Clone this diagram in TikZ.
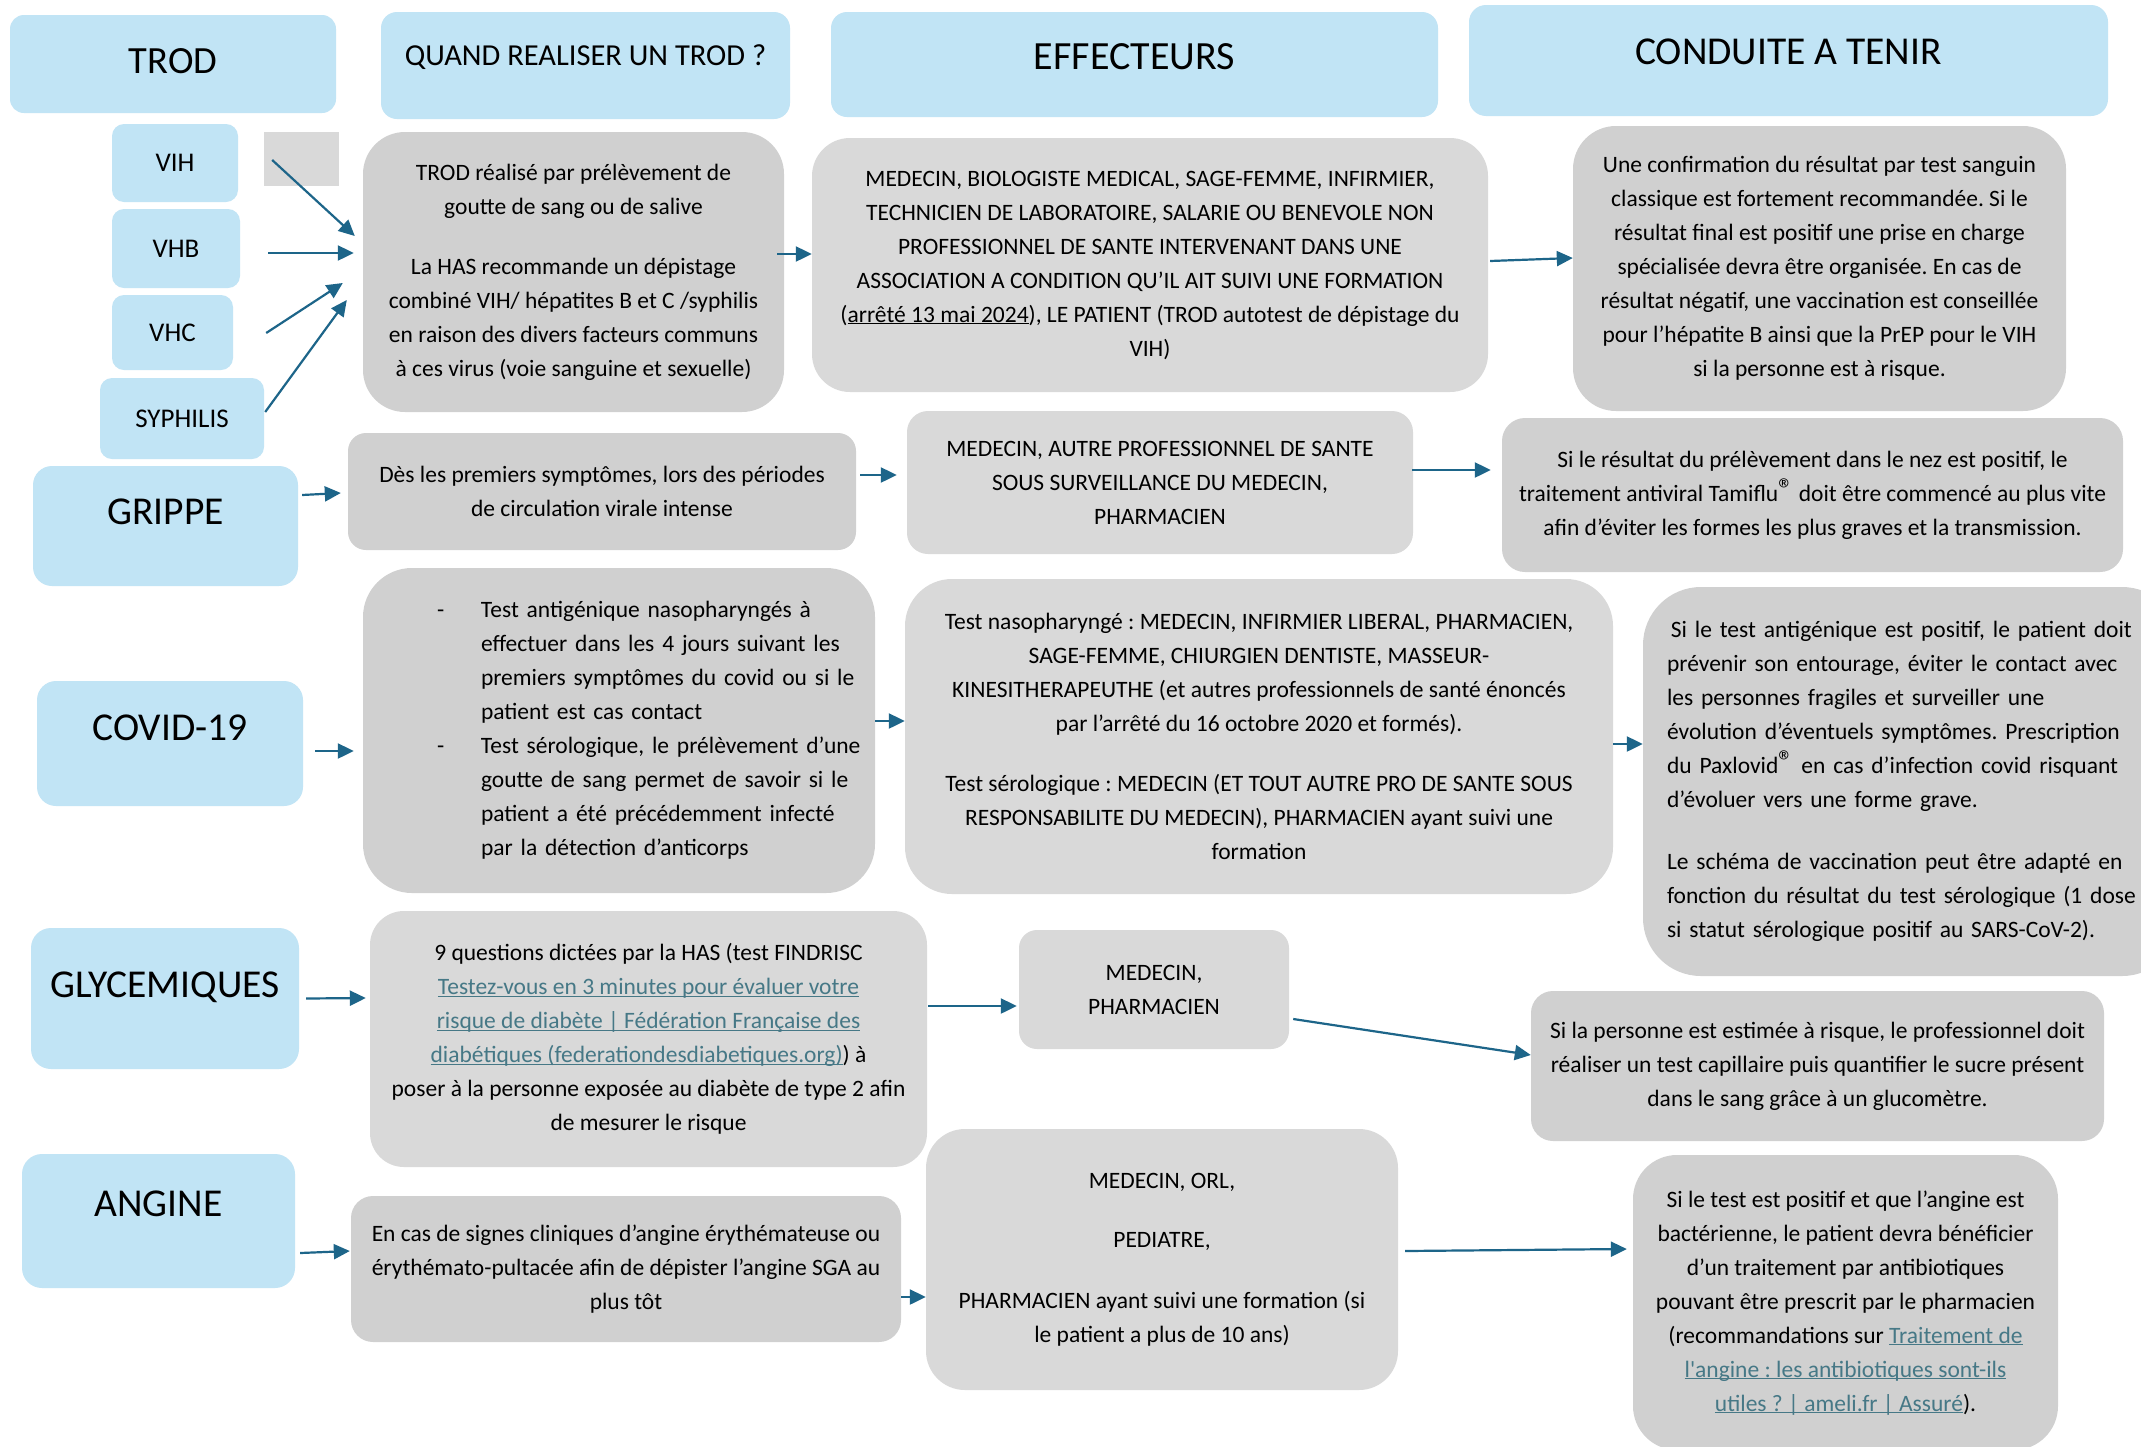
\documentclass[tikz,border=0pt]{standalone}
\usepackage{fontspec}
\setmainfont{Carlito}[Ligatures=TeXOff]
\frenchspacing
\usetikzlibrary{arrows.meta,calc}
\definecolor{hdrblue}{HTML}{C1E4F5}
\definecolor{gryA}{HTML}{D9D9D9}
\definecolor{gryB}{HTML}{D0D0D0}
\definecolor{arrowc}{HTML}{1D6589}
\definecolor{linkc}{HTML}{467886}
\newcommand\bodyfont{\fontsize{23.5}{34}\selectfont}
\newcommand\lnk[1]{{\color{linkc}\underline{\smash{#1}}}}
\newcommand\regmark{\raisebox{2pt}{\fontsize{30}{30}\selectfont ®}}
\newcommand\bline[1]{\hspace*{64pt}\makebox[44pt][l]{-}\mbox{#1}}
\newcommand\contline[1]{\hspace*{108pt}\mbox{#1}}
\tikzset{
  hdr/.style={fill=hdrblue,rounded corners=16pt,inner sep=0pt,align=center},
  cat/.style={fill=hdrblue,rounded corners=19pt,inner sep=0pt,
              font=\fontsize{39.5}{47}\selectfont,text height=25pt},
  vir/.style={fill=hdrblue,rounded corners=12pt,inner sep=0pt,
              font=\fontsize{27}{32}\selectfont},
  gry/.style={fill=#1,inner sep=0pt,align=center,font=\bodyfont},
  gry/.default=gryB,
  ar/.style={-{Triangle[length=16pt,width=15pt]},line width=2.2pt,draw=arrowc,fill=arrowc},
}
\begin{document}
\begin{tikzpicture}[x=1pt,y=-1pt]
  \useasboundingbox[fill=white] (0,0) rectangle (2141,1446);
  % column headers
  \node[hdr,rounded corners=14pt,minimum width=326pt,minimum height=98pt,
        font=\fontsize{38.5}{46}\selectfont,text height=25pt,text depth=6pt] (hTrod) at (173,64){TROD};
  \node[hdr,minimum width=409pt,minimum height=107pt,
        font=\fontsize{30.5}{36}\selectfont,text height=20pt,text depth=20pt] (hQuand) at (585.5,65.5){QUAND REALISER UN TROD ?};
  \node[hdr,minimum width=607pt,minimum height=105pt,
        font=\fontsize{40}{48}\selectfont,text height=26pt,text depth=16pt] (hEff) at (1134.5,64.5){EFFECTEURS};
  \node[hdr,rounded corners=17pt,minimum width=639pt,minimum height=111pt,
        font=\fontsize{39.5}{47}\selectfont,text height=26pt,text depth=18pt] (hCond) at (1788.5,60.5){CONDUITE A TENIR};

  % TROD
  \node[vir,minimum width=126pt,minimum height=78pt] (vih) at (175,163){VIH};
  \node[fill=gryA,inner sep=0pt,minimum width=75pt,minimum height=54pt] (blank) at (301.5,159){};
  \node[vir,minimum width=128pt,minimum height=79pt] (vhb) at (176,248.5){VHB};
  \node[vir,minimum width=121pt,minimum height=75pt] (vhc) at (172.5,332.5){VHC};
  \node[vir,minimum width=164pt,minimum height=81pt] (syph) at (182,418.5){SYPHILIS};
  \node[gry,rounded corners=42pt,minimum width=421pt,minimum height=280pt] (tWhen) at (573.5,272){%
    TROD réalisé par prélèvement de\\goutte de sang ou de salive\\[26pt]
    La HAS recommande un dépistage\\combiné VIH/ hépatites B et C /syphilis\\
    en raison des divers facteurs communs\\à ces virus (voie sanguine et sexuelle)};
  \node[gry=gryA,rounded corners=38pt,minimum width=676pt,minimum height=254pt] (tEff) at (1150,265){%
    MEDECIN, BIOLOGISTE MEDICAL, SAGE-FEMME, INFIRMIER,\\
    TECHNICIEN DE LABORATOIRE, SALARIE OU BENEVOLE NON\\
    PROFESSIONNEL DE SANTE INTERVENANT DANS UNE\\
    ASSOCIATION A CONDITION QU’IL AIT SUIVI UNE FORMATION\\
    (\underline{\smash{arrêté 13 mai 2024}}), LE PATIENT (TROD autotest de dépistage du\\VIH)};
  \node[gry,rounded corners=43pt,minimum width=493pt,minimum height=285pt] (tCond) at (1819.5,268.5){%
    Une confirmation du résultat par test sanguin\\classique est fortement recommandée. Si le\\
    résultat final est positif une prise en charge\\spécialisée devra être organisée. En cas de\\
    résultat négatif, une vaccination est conseillée\\pour l’hépatite B ainsi que la PrEP pour le VIH\\
    si la personne est à risque.};

  % GRIPPE
  \node[cat,minimum width=265pt,minimum height=120pt,text depth=28pt] (gLab) at (165.5,526){GRIPPE};
  \node[gry,rounded corners=18pt,minimum width=508pt,minimum height=117pt] (gWhen) at (602,491.5){%
    Dès les premiers symptômes, lors des périodes\\de circulation virale intense};
  \node[gry=gryA,rounded corners=21pt,minimum width=506pt,minimum height=143pt] (gEff) at (1160,482.5){%
    MEDECIN, AUTRE PROFESSIONNEL DE SANTE\\SOUS SURVEILLANCE DU MEDECIN,\\PHARMACIEN};
  \node[gry,rounded corners=23pt,minimum width=621pt,minimum height=154pt] (gCond) at (1812.5,495){%
    Si le résultat du prélèvement dans le nez est positif, le\\
    traitement antiviral Tamiflu\regmark{} doit être commencé au plus vite\\
    afin d’éviter les formes les plus graves et la transmission.};

  % COVID-19
  \node[cat,minimum width=266pt,minimum height=125pt,text depth=32pt] (cLab) at (170,743.5){COVID-19};
  \node[gry,rounded corners=49pt,minimum width=512pt,minimum height=325pt,
        align=left,text width=492pt,inner xsep=10pt] (cWhen) at (619,730.5){%
    \bline{Test antigénique nasopharyngés à}\\
    \contline{effectuer dans les 4 jours suivant les}\\
    \contline{premiers symptômes du covid ou si le}\\
    \contline{patient est cas contact}\\
    \bline{Test sérologique, le prélèvement d’une}\\
    \contline{goutte de sang permet de savoir si le}\\
    \contline{patient a été précédemment infecté}\\
    \contline{par la détection d’anticorps}};
  \node[gry=gryA,rounded corners=47pt,minimum width=708pt,minimum height=315pt] (cEff) at (1259,736.5){%
    Test nasopharyngé : MEDECIN, INFIRMIER LIBERAL, PHARMACIEN,\\
    SAGE-FEMME, CHIURGIEN DENTISTE, MASSEUR-\\
    KINESITHERAPEUTHE (et autres professionnels de santé énoncés\\
    par l’arrêté du 16 octobre 2020 et formés).\\[26pt]
    Test sérologique : MEDECIN (ET TOUT AUTRE PRO DE SANTE SOUS\\
    RESPONSABILITE DU MEDECIN), PHARMACIEN ayant suivi une\\formation};
  \node[gry,rounded corners=58pt,minimum width=537pt,minimum height=389pt,
        align=left,text width=489pt,inner xsep=24pt] (cCond) at (1911.5,781.5){%
    \,Si le test antigénique est positif, le patient doit\\
    prévenir son entourage, éviter le contact avec\\
    les personnes fragiles et surveiller une\\
    évolution d’éventuels symptômes. Prescription\\
    du Paxlovid\regmark{} en cas d’infection covid risquant\\
    d’évoluer vers une forme grave.\\[28pt]
    Le schéma de vaccination peut être adapté en\\
    fonction du résultat du test sérologique (1 dose\\
    si statut sérologique positif au SARS-CoV-2).};

  % GLYCEMIQUES
  \node[cat,rounded corners=20pt,minimum width=268pt,minimum height=141pt,text depth=28pt] (yLab) at (165,998.5){GLYCEMIQUES};
  \node[gry=gryA,rounded corners=34pt,minimum width=557pt,minimum height=256pt] (yWhen) at (648.5,1039){%
    9 questions dictées par la HAS (test FINDRISC\\
    \lnk{Testez-vous en 3 minutes pour évaluer votre}\\
    \lnk{risque de diabète | Fédération Française des}\\
    \lnk{diabétiques (federationdesdiabetiques.org)}) à\\
    poser à la personne exposée au diabète de type 2 afin\\
    de mesurer le risque};
  \node[gry=gryA,rounded corners=18pt,minimum width=270pt,minimum height=119pt] (yEff) at (1154,989.5){%
    MEDECIN,\\PHARMACIEN};
  \node[gry,rounded corners=22pt,minimum width=573pt,minimum height=150pt] (yCond) at (1817.5,1066){%
    Si la personne est estimée à risque, le professionnel doit\\
    réaliser un test capillaire puis quantifier le sucre présent\\
    dans le sang grâce à un glucomètre.};

  % ANGINE
  \node[cat,rounded corners=20pt,minimum width=273pt,minimum height=134pt,text depth=34pt] (aLab) at (158.5,1221){ANGINE};
  \node[gry,rounded corners=22pt,minimum width=550pt,minimum height=146pt] (aWhen) at (626,1269){%
    En cas de signes cliniques d’angine érythémateuse ou\\
    érythémato-pultacée afin de dépister l’angine SGA au\\plus tôt};
  \node[gry=gryA,rounded corners=39pt,minimum width=472pt,minimum height=261pt] (aEff) at (1162,1259.5){%
    MEDECIN, ORL,\\[25pt]PEDIATRE,\\[27pt]
    PHARMACIEN ayant suivi une formation (si\\le patient a plus de 10 ans)};
  \node[gry,rounded corners=44pt,minimum width=425pt,minimum height=295pt] (aCond) at (1845.5,1302.5){%
    Si le test est positif et que l’angine est\\
    bactérienne, le patient devra bénéficier\\
    d’un traitement par antibiotiques\\
    pouvant être prescrit par le pharmacien\\
    (recommandations sur \lnk{Traitement de}\\
    \lnk{l'angine : les antibiotiques sont-ils}\\
    \lnk{utiles ? | ameli.fr | Assuré}).};

  % connectors
  \draw[ar] ($(vih.east)+(34,-3)$) -- ($(tWhen.west)+(-8,-36)$);
  \draw[ar] ($(vhb.east)+(28,4.5)$) -- ($(tWhen.west)+(-9,-19)$);
  \draw[ar] ($(vhc.east)+(33,0.5)$) -- ($(tWhen.west)+(-20,11)$);
  \draw[ar] ($(syph.east)+(1,-6.5)$) -- ($(tWhen.west)+(-16,28)$);
  \draw[ar] ($(tWhen.east)+(-7,-18)$) -- ($(tEff.west)+(0,-11)$);
  \draw[ar] ($(tEff.east)+(2,-4)$) -- ($(tCond.west)+(0,-10.5)$);
  \draw[ar] ($(gLab.east)+(4,-31)$) -- ($(gWhen.west)+(-7,1.5)$);
  \draw[ar] ($(gWhen.east)+(4,-16.5)$) -- ($(gEff.west)+(-10,-7.5)$);
  \draw[ar] ($(gEff.east)+(-1,-12.5)$) -- ($(gCond.west)+(-11,-25)$);
  \draw[ar] ($(cLab.east)+(12,7.5)$) -- ($(cWhen.west)+(-9,20.5)$);
  \draw[ar] ($(cWhen.east)+(0,-9.5)$) -- ($(cEff.west)+(0,-15.5)$);
  \draw[ar] ($(cEff.east)+(0,7.5)$) -- ($(cCond.west)+(0,-37.5)$);
  \draw[ar] ($(yLab.east)+(7,0)$) -- ($(yWhen.west)+(-4,-41)$);
  \draw[ar] ($(yWhen.east)+(1,-33)$) -- ($(yEff.west)+(-2,16.5)$);
  \draw[ar] ($(yEff.east)+(4,29.5)$) -- ($(yCond.west)+(0,-11)$);
  \draw[ar] ($(aLab.east)+(5,32)$) -- ($(aWhen.west)+(-1,-18)$);
  \draw[ar] ($(aWhen.east)+(0,28)$) -- ($(aEff.west)+(0,37.5)$);
  \draw[ar] ($(aEff.east)+(7,-8.5)$) -- ($(aCond.west)+(-6,-53.5)$);
\end{tikzpicture}
\end{document}
